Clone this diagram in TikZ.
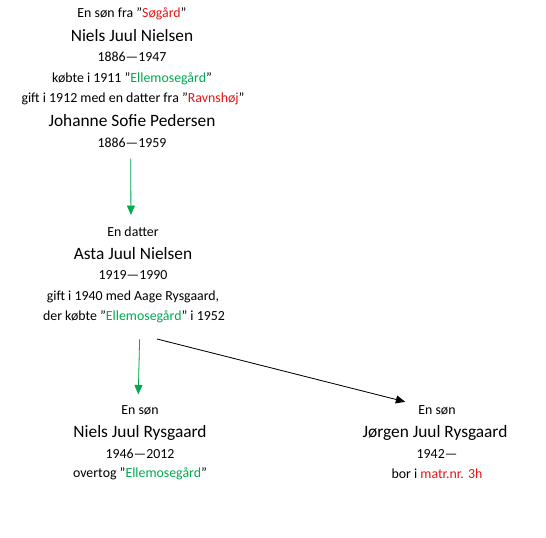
\documentclass[tikz,border=0pt]{standalone}
\usepackage{fontspec}
\setmainfont{Carlito}
\usetikzlibrary{arrows.meta,positioning}
\definecolor{farmred}{RGB}{230,20,20}
\definecolor{farmgreen}{RGB}{0,170,80}
\newcommand{\red}[1]{\textcolor{farmred}{#1}}
\newcommand{\grn}[1]{\textcolor{farmgreen}{#1}}

\begin{document}
\begin{tikzpicture}[
  x=0.75pt, y=-0.75pt,
  txt/.style={inner sep=0pt, font=\fontsize{10.4}{12}\selectfont},
  person/.style={inner sep=0pt, font=\fontsize{13}{15}\selectfont},
  arrow/.style={-{Triangle[length=7pt,width=6pt]}, line width=0.6pt, draw=#1, fill=#1}
]
  \useasboundingbox (0,0) rectangle (546,538);

  % Niels Juul Nielsen and wife
  \node[txt]    (nn1) at (132,14)  {En søn fra ”\red{Søgård}”};
  \node[person] (nn2) at (132,36)  {Niels Juul Nielsen};
  \node[txt]    (nn3) at (132,57)  {1886—1947};
  \node[txt]    (nn4) at (132,79)  {købte i 1911 ”\grn{Ellemosegård}”};
  \node[txt]    (nn5) at (133,99)  {gift i 1912 med en datter fra ”\red{Ravnshøj}”};
  \node[person] (js2) at (132,121) {Johanne Sofie Pedersen};
  \node[txt]    (js3) at (132,143) {1886—1959};

  % Asta Juul Nielsen
  \node[txt]    (an1) at (133,232) {En datter};
  \node[person] (an2) at (133,254) {Asta Juul Nielsen};
  \node[txt]    (an3) at (133,275) {1919—1990};
  \node[txt]    (an4) at (133,297) {gift i 1940 med Aage Rysgaard,};
  \node[txt]    (an5) at (134,317) {der købte ”\grn{Ellemosegård}” i 1952};

  % Niels Juul Rysgaard
  \node[txt]    (nr1) at (140,410) {En søn};
  \node[person] (nr2) at (140,433) {Niels Juul Rysgaard};
  \node[txt]    (nr3) at (140,454) {1946—2012};
  \node[txt]    (nr4) at (140,474) {overtog ”\grn{Ellemosegård}”};

  % Jørgen Juul Rysgaard
  \node[txt]    (jr1) at (437,410) {En søn};
  \node[person] (jr2) at (435,433) {Jørgen Juul Rysgaard};
  \node[txt]    (jr3) at (437,454) {1942—};
  \node[txt]    (jr4) at (437,474) {bor i \red{matr.nr. 3h}};

  % Arrows
  \coordinate (bka) at (157,339);
  \draw[arrow=farmgreen, shorten <=8pt, shorten >=9pt]
    ([xshift=-1pt]js3.south) -- ([xshift=-1.5pt]an1.north);
  \draw[arrow=farmgreen, shorten <=12pt, shorten >=8pt]
    (an5.south -| nr1.north) -- ([xshift=-1.5pt]nr1.north);
  \draw[arrow=black, shorten >=10pt] (bka) -- (jr1.north west);
\end{tikzpicture}
\end{document}
